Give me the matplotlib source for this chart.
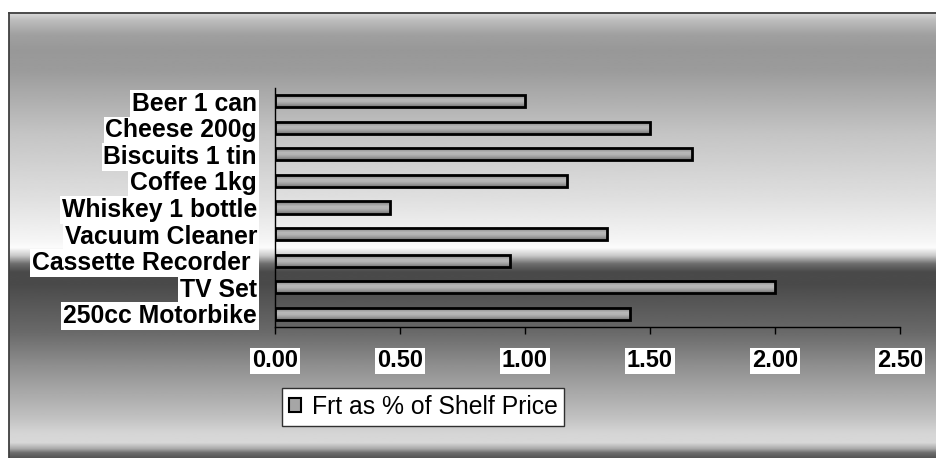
import matplotlib
matplotlib.use("Agg")
import matplotlib.pyplot as plt
import numpy as np
from matplotlib.patches import Patch, Rectangle

# freight cost as a share of shelf price, per product
products = ["Beer 1 can", "Cheese 200g", "Biscuits 1 tin", "Coffee 1kg",
            "Whiskey 1 bottle", "Vacuum Cleaner", "Cassette Recorder ",
            "TV Set", "250cc Motorbike"]
frt_pct = [1.00, 1.50, 1.67, 1.17, 0.46, 1.33, 0.94, 2.00, 1.42]
x_ticks = [0.0, 0.5, 1.0, 1.5, 2.0, 2.5]
series_name = "Frt as % of Shelf Price"

W, H = 937, 458
fig = plt.figure(figsize=(W / 100, H / 100), dpi=100)
fig.patch.set_facecolor("white")

# chart-area background: metallic vertical gradient (pixel rows, grey level)
bg = fig.add_axes([0, 0, 1, 1], zorder=0)
bg.set_xlim(0, W)
bg.set_ylim(H, 0)
bg.axis("off")
stops_y = [12.5, 20, 35, 50, 70, 133, 200, 240, 248, 256, 264, 272, 285,
           300, 333, 367, 417, 433, 443, 449, 453, 458]
stops_v = [220, 190, 160, 152, 155, 196, 224, 245, 252, 200, 110, 74, 74,
           85, 106, 144, 192, 213, 216, 170, 110, 85]
rows = np.linspace(12.5, H, 600)
shade = np.interp(rows, stops_y, stops_v) / 255.0
bg.imshow(shade[:, None], cmap="gray", vmin=0, vmax=1, aspect="auto",
          extent=[9, W, H, 12.5], interpolation="bilinear")
bg.plot([9, 9], [H, 12.5], color="#404040", lw=1.3)
bg.plot([9, W], [12.5, 12.5], color="#404040", lw=1.3)

# plot area
ax = fig.add_axes([275 / W, (H - 327) / H, 625 / W, (327 - 88) / H], zorder=2)
ax.set_facecolor("none")

ypos = np.arange(len(products))
bar_h = 0.46
bars = ax.barh(ypos, frt_pct, height=bar_h, facecolor="none",
               edgecolor="black", linewidth=2.0, zorder=3)

# shaded fill inside each bar
grad = np.array([0.50, 0.62, 0.72, 0.70, 0.62, 0.50])[:, None]
for v, y in zip(frt_pct, ypos):
    clip = Rectangle((0, y - bar_h / 2), v, bar_h, transform=ax.transData)
    im = ax.imshow(grad, cmap="gray", vmin=0, vmax=1, aspect="auto",
                   extent=[0, v, y + bar_h / 2, y - bar_h / 2],
                   interpolation="bilinear", zorder=2)
    im.set_clip_path(clip)

ax.set_xlim(0, 2.5)
ax.set_ylim(len(products) - 0.5, -0.5)

for s in ["top", "right"]:
    ax.spines[s].set_visible(False)
for s in ["left", "bottom"]:
    ax.spines[s].set_color("black")
    ax.spines[s].set_linewidth(1.0)

ax.set_yticks(ypos)
ax.set_yticklabels(products, fontsize=17.8, fontweight="bold",
                   fontfamily="Liberation Sans")
ax.tick_params(axis="y", length=0, pad=13)
ax.set_xticks(x_ticks)
ax.set_xticklabels([f"{t:.2f}" for t in x_ticks], fontsize=17,
                   fontweight="bold", fontfamily="Liberation Sans")
ax.tick_params(axis="x", length=5, width=1.0, direction="out", pad=11)

for lab in ax.get_yticklabels() + ax.get_xticklabels():
    lab.set_bbox(dict(facecolor="white", edgecolor="none", pad=1.2))

handle = Patch(facecolor="#a6a6a6", edgecolor="black", linewidth=1.5,
               label=series_name)
leg = fig.legend(handles=[handle], loc="upper left",
                 bbox_to_anchor=(282 / W, 1 - 388 / H),
                 bbox_transform=fig.transFigure,
                 prop={"family": "Liberation Sans", "size": 17.8},
                 frameon=True, fancybox=False, framealpha=1,
                 edgecolor="#303030", borderpad=0.28, borderaxespad=0,
                 handlelength=0.5, handleheight=0.5, handletextpad=0.42)
leg.get_frame().set_linewidth(1.0)
leg.set_zorder(5)

fig.savefig("out.png", dpi=100)
